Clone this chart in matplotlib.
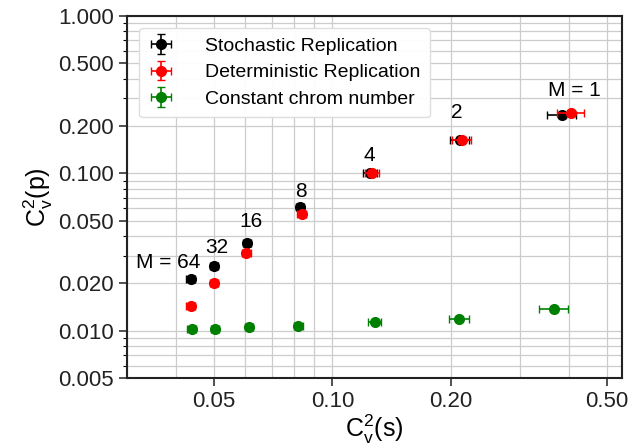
import matplotlib
matplotlib.use("Agg")
import matplotlib.pyplot as plt
from matplotlib.ticker import FixedLocator, FormatStrFormatter, LogLocator, NullFormatter

plt.rcParams['font.family'] = ['Liberation Sans', 'DejaVu Sans']
plt.rcParams['mathtext.fontset'] = 'custom'
plt.rcParams['mathtext.rm'] = 'Liberation Sans'
plt.rcParams['mathtext.default'] = 'regular'

# datos (M = 64, 32, 16, 8, 4, 2, 1)
M_labels = ["M = 64", "32", "16", "8", "4", "2", "M = 1"]

stoch_x = [0.0436, 0.0500, 0.0606, 0.0828, 0.1247, 0.2114, 0.385]
stoch_y = [0.0212, 0.0259, 0.0359, 0.0613, 0.100, 0.163, 0.235]
stoch_xerr = [0.0011, 0.0012, 0.0015, 0.0021, 0.005, 0.012, 0.032]
stoch_yerr = [0.0008, 0.0010, 0.0013, 0.0022, 0.003, 0.006, 0.009]

det_x = [0.0436, 0.0500, 0.0604, 0.0835, 0.1262, 0.2140, 0.406]
det_y = [0.0144, 0.0202, 0.0310, 0.0551, 0.100, 0.163, 0.241]
det_xerr = [0.0011, 0.0012, 0.0015, 0.0021, 0.005, 0.012, 0.032]
det_yerr = [0.0006, 0.0008, 0.0011, 0.0020, 0.003, 0.006, 0.009]

const_x = [0.0438, 0.0502, 0.0613, 0.0820, 0.1284, 0.2105, 0.367]
const_y = [0.0102, 0.0103, 0.01054, 0.0107, 0.01134, 0.01186, 0.0137]
const_xerr = [0.0011, 0.0012, 0.0015, 0.0021, 0.005, 0.012, 0.032]
const_yerr = [0.0003, 0.0003, 0.0003, 0.0003, 0.0004, 0.0004, 0.0005]

y_ticks = [0.005, 0.010, 0.020, 0.050, 0.100, 0.200, 0.500, 1.000]
x_ticks = [0.05, 0.10, 0.20, 0.50]

fig = plt.figure(figsize=(6.3, 4.45), dpi=100)
ax = fig.add_axes([0.2016, 0.1506, 0.7854, 0.8134])

ax.errorbar(stoch_x, stoch_y, xerr=stoch_xerr, yerr=stoch_yerr, fmt='o', color='black',
            markersize=7, capsize=3, elinewidth=1.2, label="Stochastic Replication", zorder=4)
ax.errorbar(det_x, det_y, xerr=det_xerr, yerr=det_yerr, fmt='o', color='red',
            markersize=7, capsize=3, elinewidth=1.2, label="Deterministic Replication", zorder=5)
ax.errorbar(const_x, const_y, xerr=const_xerr, yerr=const_yerr, fmt='o', color='green',
            markersize=7, capsize=3, elinewidth=1.2, label="Constant chrom number", zorder=4)

# etiquetas M (desplazamiento en pixeles respecto al punto negro)
offsets = [(-23, 17), (3, 18), (4, 22), (1, 15), (-1, 18), (-3, 27), (12, 24)]
for lab, x, y, off in zip(M_labels, stoch_x, stoch_y, offsets):
    ax.annotate(lab, (x, y), xytext=off, textcoords='offset pixels',
                ha='center', va='center', fontsize=15)

ax.set_xscale('log')
ax.set_yscale('log')
ax.set_xlim(0.030, 0.546)
ax.set_ylim(0.005, 1.0)

ax.yaxis.set_major_locator(FixedLocator(y_ticks))
ax.yaxis.set_major_formatter(FormatStrFormatter('%.3f'))
ax.xaxis.set_major_locator(FixedLocator(x_ticks))
ax.xaxis.set_major_formatter(FormatStrFormatter('%.2f'))
ax.xaxis.set_minor_locator(LogLocator(base=10, subs=range(2, 10)))
ax.yaxis.set_minor_locator(LogLocator(base=10, subs=range(2, 10)))
ax.xaxis.set_minor_formatter(NullFormatter())
ax.yaxis.set_minor_formatter(NullFormatter())

ax.grid(True, which='both', color='#cccccc', linewidth=0.9)
ax.set_axisbelow(True)
ax.tick_params(axis='both', which='major', labelsize=16, length=6, width=1.2,
               color='#333333', labelcolor='#222222')
ax.tick_params(axis='y', which='minor', length=3, width=0.8)
ax.tick_params(axis='x', which='minor', length=0)
for s in ax.spines.values():
    s.set_linewidth(1.5)
    s.set_color('#222222')

ax.set_xlabel(r"C$_v^2$(s)", fontsize=18, labelpad=0)
ax.set_ylabel(r"C$_v^2$(p)", fontsize=18, labelpad=2)

ax.legend(loc='upper left', fontsize=14, frameon=True, framealpha=0.95,
          edgecolor='#dddddd', handlelength=1.3, handletextpad=1.6, borderpad=0.5,
          labelspacing=0.45, borderaxespad=0.6)

plt.savefig("out.png", dpi=100)
plt.close()
